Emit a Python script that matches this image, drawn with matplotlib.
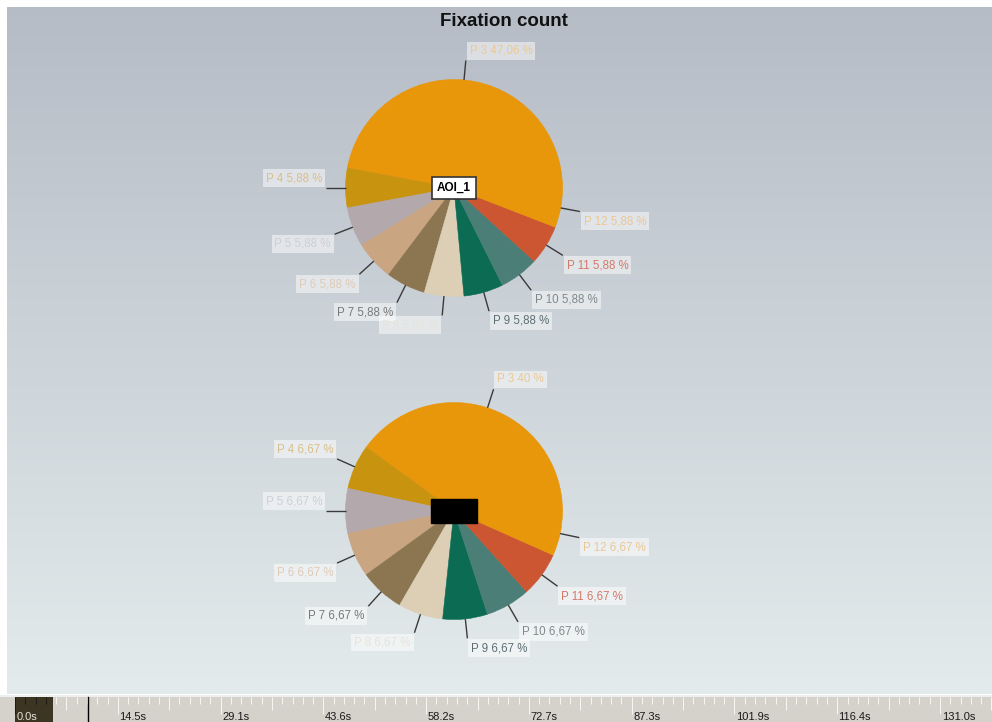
import numpy as np
import matplotlib
matplotlib.use("Agg")
import matplotlib.pyplot as plt
from matplotlib.patches import Rectangle

# ---------------------------------------------------------------- data
participants = ["P 3", "P 4", "P 5", "P 6", "P 7", "P 8", "P 9", "P 10", "P 11", "P 12"]
aoi1_counts = [8, 1, 1, 1, 1, 1, 1, 1, 1, 1]
aoi2_counts = [6, 1, 1, 1, 1, 1, 1, 1, 1, 1]
aoi1_name = "AOI_1"

slice_colors = ["#e8960a", "#c8930f", "#b3a8ab", "#c9a582", "#8b7651",
                "#dccfb6", "#0b6b53", "#4a7e77", "#cb5631", "#e8960a"]
label_colors = ["#ebc894", "#d9bf8c", "#cfcfd5", "#e0cbb6", "#77797a",
                "#e9e3d8", "#5c6f74", "#7e898d", "#d4786a", "#ebc794"]

timeline_times = [0.0, 14.5, 29.1, 43.6, 58.2, 72.7, 87.3, 101.9, 116.4, 131.0]
timeline_labels = ["0.0s", "14.5s", "29.1s", "43.6s", "58.2s",
                   "72.7s", "87.3s", "101.9s", "116.4s", "131.0s"]
selection_end = 5.4      # seconds, highlighted window at the start
cursor_time = 10.27      # seconds, playback cursor

# ---------------------------------------------------------------- figure
W, H, DPI = 992, 722, 100
fig = plt.figure(figsize=(W / DPI, H / DPI), dpi=DPI, facecolor="white")

bg = fig.add_axes([0, 0, 1, 1])
bg.set_xlim(0, W)
bg.set_ylim(H, 0)
bg.axis("off")

# vertical gradient panel
grad = np.linspace(0, 1, 256)[:, None, None]
c_top = np.array([181, 188, 198]) / 255
c_bot = np.array([228, 235, 236]) / 255
img = c_top + (c_bot - c_top) * grad
bg.imshow(img, extent=[7, W, 694, 7], aspect="auto",
          interpolation="bilinear", zorder=0)

bg.text(503.5, 26, "Fixation count", ha="center", va="baseline",
        fontsize=13.5, fontweight="bold", family="Liberation Sans",
        color="#111111")


def fmt_pct(p):
    s = ("%.2f" % p).rstrip("0").rstrip(".")
    return s.replace(".", ",")


R = 108.5      # pie radius in pixels
LIM = 1.8


def draw_pie(cx, cy, counts):
    half = LIM * R
    ax = fig.add_axes([(cx - half) / W, 1 - (cy + half) / H,
                       2 * half / W, 2 * half / H])
    wedges, _ = ax.pie(counts, colors=slice_colors, startangle=0,
                       counterclock=True, radius=1)
    for w in wedges:
        w.set_edgecolor(w.get_facecolor())
        w.set_linewidth(0.4)
    ax.set_xlim(-LIM, LIM)
    ax.set_ylim(-LIM, LIM)
    ax.set_aspect("equal")
    ax.axis("off")

    total = float(sum(counts))
    for w, name, n, tc in zip(wedges, participants, counts, label_colors):
        ang = np.deg2rad((w.theta1 + w.theta2) / 2)
        c, s = np.cos(ang), np.sin(ang)
        ax.plot([c, 1.18 * c], [s, 1.18 * s], color="#3a3a3a", lw=1.0,
                clip_on=False, solid_capstyle="butt", zorder=3)
        ha = "left" if c >= 0 else "right"
        va = "top" if s < -1e-6 else "bottom"
        dx = 2.7 if ha == "left" else -2.7
        dy = -2.7 if va == "top" else 2.7
        ax.annotate(f"{name} {fmt_pct(100 * n / total)} %",
                    xy=(1.18 * c, 1.18 * s), xytext=(dx, dy),
                    textcoords="offset points", ha=ha, va=va,
                    fontsize=8.3, color=tc, family="Liberation Sans",
                    annotation_clip=False, zorder=4,
                    bbox=dict(boxstyle="square,pad=0.25", fc="white",
                              ec="none", alpha=0.5))
    return ax


ax1 = draw_pie(454, 188, aoi1_counts)
ax1.text(0, 0, aoi1_name, ha="center", va="center", fontsize=8.5,
         fontweight="bold", family="Liberation Sans", color="black",
         zorder=5,
         bbox=dict(boxstyle="square,pad=0.45", fc="white", ec="#333333",
                   lw=1.2))

ax2 = draw_pie(454, 511, aoi2_counts)
ax2.add_patch(Rectangle((-0.215, -0.108), 0.43, 0.215, fc="black",
                        ec="black", zorder=5))

# ---------------------------------------------------------------- timeline
px_per_s = 925 / 131.0
view_start = -15 / px_per_s
view_end = (W - 15) / px_per_s
tl = fig.add_axes([0, 0, 1, 27 / H])
tl.set_xlim(view_start, view_end)
tl.set_ylim(0, 27)
tl.axis("off")
tl.axhspan(25.4, 27, color="#eef0ef", lw=0)
tl.axhspan(0, 25.4, color="#d5d1cb", lw=0)
tl.add_patch(Rectangle((0, 0), selection_end, 25.4, fc="#3d3524", ec="none"))

step = timeline_times[-1] / 90
ticks = np.arange(0, view_end, step)
for k, t in enumerate(ticks):
    if k % 10 == 0:
        length = 17
    elif k % 5 == 0:
        length = 13
    else:
        length = 7.5
    col = "#1e1b12" if t < selection_end else "#f7f5f1"
    tl.plot([t, t], [25.4 - length, 25.4], color=col, lw=0.75,
            solid_capstyle="butt")

tl.plot([cursor_time, cursor_time], [0, 25.4], color="black", lw=1.0)

for t, lab in zip(timeline_times, timeline_labels):
    tl.annotate(lab, xy=(t, 10.5), xytext=(1.2, 0), textcoords="offset points",
                ha="left", va="top", fontsize=8.0, family="Liberation Sans",
                color="#1a1a1a" if t >= selection_end else "#e8e4da")

fig.savefig("out.png", dpi=DPI, facecolor="white")
